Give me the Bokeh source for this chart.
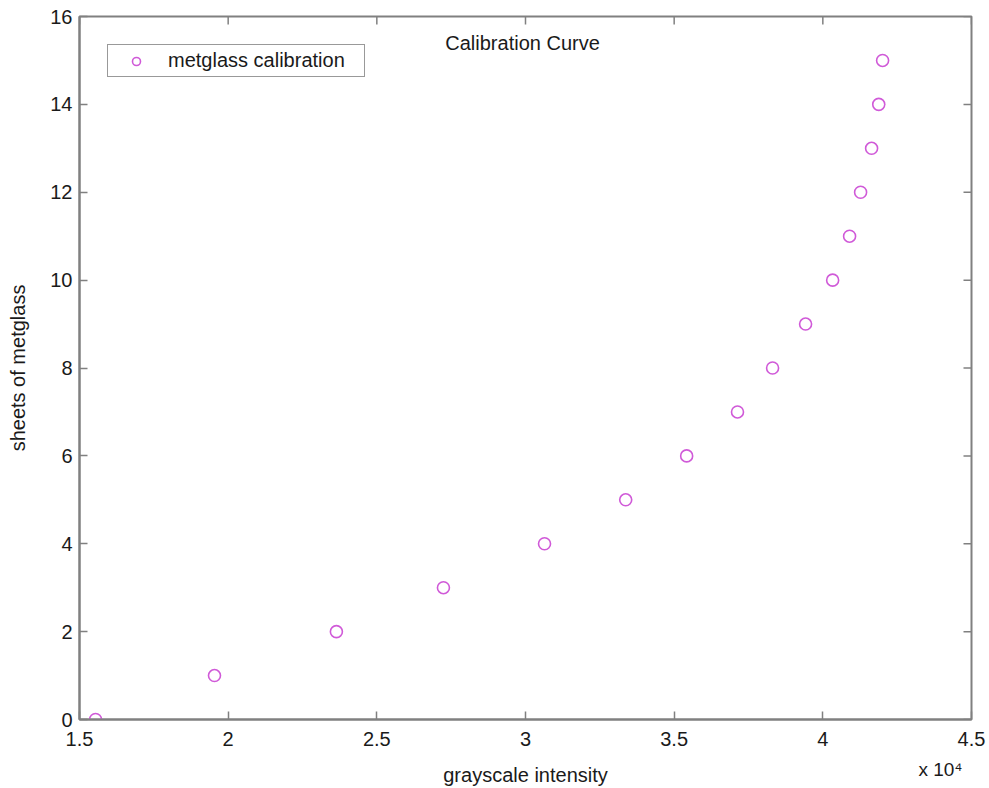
from bokeh.plotting import figure
from bokeh.models import Range1d, Label, FixedTicker, Title
from bokeh.embed import file_html
from bokeh.resources import INLINE
import numpy as np

# Data
intensity = [15540, 19540, 23640, 27240, 30640, 33370, 35420, 37130,
             38310, 39420, 40330, 40900, 41270, 41640, 41880, 42010]
sheets = [0, 1, 2, 3, 4, 5, 6, 7, 8, 9, 10, 11, 12, 13, 14, 15]
x_ticks = [1.5, 2, 2.5, 3, 3.5, 4, 4.5]
y_ticks = [0, 2, 4, 6, 8, 10, 12, 14, 16]

x_scaled = list(np.array(intensity) / 1e4)

FONT = "Liberation Sans"
FS = "20px"
TXT = "#1a1a1a"
AX = "#808080"

p = figure(width=989, height=788, output_backend="svg", toolbar_location=None,
           x_range=Range1d(x_ticks[0], x_ticks[-1]),
           y_range=Range1d(y_ticks[0], y_ticks[-1]),
           min_border_left=79, min_border_right=18, min_border_top=16,
           min_border_bottom=68)
p.outline_line_color = AX
p.outline_line_width = 2
p.grid.visible = False
p.background_fill_color = "white"
p.border_fill_color = "white"

# mirrored inward ticks on the top and right edges (half of each dash is clipped)
p.scatter(x_ticks, [y_ticks[-1]] * len(x_ticks), marker="dash", angle=np.pi / 2,
          size=16, line_color=AX, line_width=1.5)
p.scatter([x_ticks[-1]] * len(y_ticks), y_ticks, marker="dash",
          size=16, line_color=AX, line_width=1.5)

p.scatter(x_scaled, sheets, marker="circle", size=12, fill_color=None,
          line_color="#d05ad8", line_width=1.6, legend_label="metglass calibration")

for ax in (p.xaxis[0], p.yaxis[0]):
    ax.axis_line_color = AX
    ax.axis_line_width = 2
    ax.major_tick_line_color = AX
    ax.major_tick_line_width = 1.5
    ax.major_tick_in = 8
    ax.major_tick_out = 0
    ax.minor_tick_line_color = None
    ax.major_label_text_font = FONT
    ax.major_label_text_color = TXT
    ax.major_label_text_font_size = FS
    ax.axis_label_text_font = FONT
    ax.axis_label_text_font_style = "normal"
    ax.axis_label_text_color = TXT
    ax.axis_label_text_font_size = FS

p.xaxis.ticker = FixedTicker(ticks=x_ticks)
p.yaxis.ticker = FixedTicker(ticks=y_ticks)
p.xaxis.axis_label = "grayscale intensity"
p.yaxis.axis_label = "sheets of metglass"
p.xaxis.major_label_standoff = 12
p.xaxis.axis_label_standoff = 15
p.yaxis.major_label_standoff = 7
p.yaxis.axis_label_standoff = 18

p.add_layout(Label(x=2.99, y=15.39, text="Calibration Curve", text_align="center",
                   text_baseline="alphabetic", text_font=FONT, text_font_size=FS,
                   text_color=TXT))

# exponent note under the right end of the x axis; the negative standoff
# lifts it into the band of the axis label without taking layout space
p.add_layout(Title(text="x 10\u2074", align="right", offset=9, standoff=-60,
                   vertical_align="top", text_font=FONT, text_font_size="19px",
                   text_font_style="normal", text_color=TXT), "below")

lg = p.legend[0]
lg.location = "top_left"
lg.margin = 28
lg.padding = 4
lg.spacing = 0
lg.glyph_width = 48
lg.glyph_height = 20
lg.label_height = 20
lg.label_width = 192
lg.label_standoff = 8
lg.label_text_font = FONT
lg.label_text_font_size = FS
lg.label_text_color = TXT
lg.border_line_color = "#333333"
lg.border_line_width = 1
lg.background_fill_color = "white"
lg.background_fill_alpha = 1.0

open("out.html", "w").write(file_html(p, INLINE))
